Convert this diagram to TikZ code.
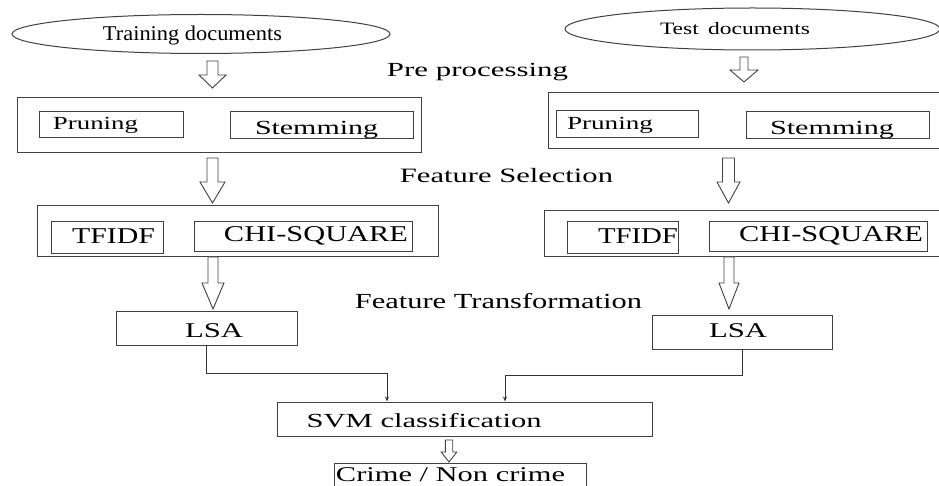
\documentclass[tikz,border=0pt]{standalone}
\usepackage{fontspec}
\setmainfont{Liberation Serif}
\usepackage{graphicx}
\usetikzlibrary{calc,shapes.geometric,arrows.meta}
% #1 dx, #2 dy (baseline offset from node centre), #3 width, #4 font size, #5 text
\newcommand\tx[5]{\raisebox{#2pt}{\hspace*{#1pt}\resizebox{#3pt}{\height}{\fontsize{#4}{#4}\selectfont #5}\hspace*{-#1pt}}}
\begin{document}
\begin{tikzpicture}[x=1pt,y=-1pt,
  box/.style={draw=black!75, line width=1pt, rectangle, inner sep=0pt, text height=0pt, text depth=0pt},
  ell/.style={draw=black!75, line width=1pt, ellipse, inner sep=0pt, text height=0pt, text depth=0pt},
  sz/.style 2 args={minimum width=#1pt, minimum height=#2pt},
  lbl/.style={anchor=base, inner sep=0pt},
  blk/.style={draw=black!75, line width=0.9pt, fill=white, line join=miter},
  barrow/.style n args={3}{to path={let \p1=(\tikztostart), \p2=(\tikztotarget) in
     (\x1-#1pt,\y1) -- (\x1+#1pt,\y1) -- (\x1+#1pt,\y2+#3pt) -- (\x1+#2pt,\y2+#3pt) -- (\x1,\y2)
     -- (\x1-#2pt,\y2+#3pt) -- (\x1-#1pt,\y2+#3pt) -- cycle}},
  conn/.style={draw=black!80, line width=0.9pt, -{Stealth[length=5pt,width=4pt]}}
]
\useasboundingbox[fill=white] (0,0) rectangle (939,486);

% sources
\node[ell, sz={378}{39}] (train) at (201,34) {\tx{-8.5}{-6.7}{179}{21}{Training documents}};
\node[ell, sz={375}{42}] (test) at (752.5,29) {\tx{-17.5}{-5.3}{150}{17.4}{Test\hspace{.4em}documents}};

% pre processing
\node[lbl] (pp) at (477.5,76.7) {\tx{0}{0}{181}{20}{Pre processing}};
\node[box, sz={404}{55}] (preL) at (219,125.5) {};
\node[box, sz={144}{26}] (prunL) at (111,125) {\tx{-15.5}{-5}{85}{18.5}{Pruning}};
\node[box, sz={183}{27}] (stemL) at (321.5,125.5) {\tx{-5}{-9.5}{123}{20}{Stemming}};
\node[box, sz={397}{56}] (preR) at (746.5,121) {};
\node[box, sz={142}{27}] (prunR) at (627,124.5) {\tx{-17}{-5.5}{86}{18.5}{Pruning}};
\node[box, sz={183}{27}] (stemR) at (837.5,125.5) {\tx{-5.5}{-9.5}{124}{20}{Stemming}};

% feature selection
\node[lbl] (fs) at (506.5,182.3) {\tx{0}{0}{213}{20.4}{Feature Selection}};
\node[box, sz={401}{51}] (fsL) at (237.5,231.5) {};
\node[box, sz={112}{32}] (tfL) at (107,238) {\tx{6.5}{-5.3}{83}{22.6}{TFIDF}};
\node[box, sz={218}{30}] (chiL) at (303,237) {\tx{13}{-4.7}{184}{22.6}{CHI-SQUARE}};
\node[box, sz={401}{46}] (fsR) at (744.5,234) {};
\node[box, sz={111}{32}] (tfR) at (622.5,238) {\tx{15.5}{-6}{80}{22.6}{TFIDF}};
\node[box, sz={218}{30}] (chiR) at (818,237) {\tx{13}{-4.7}{184}{22.6}{CHI-SQUARE}};

% feature transformation
\node[lbl] (ft) at (498.5,308.3) {\tx{0}{0}{287}{21.5}{Feature Transformation}};
\node[box, sz={181}{34}] (lsaL) at (206.5,328) {\tx{7.5}{-9.3}{58}{21}{LSA}};
\node[box, sz={180}{34}] (lsaR) at (742,332) {\tx{-4}{-5.3}{58}{21}{LSA}};

% classification
\node[box, sz={375}{34}] (svm) at (464.5,419) {\tx{-40.3}{-8.7}{235}{20}{SVM classification}};
\node[box, sz={252}{37}] (crime) at (460,481.5) {\tx{-9.5}{-0.2}{229}{21}{Crime / Non crime}};

% block arrows
\coordinate (a1ls) at (212.5,61);  \coordinate (a1le) at (212.5,88);
\coordinate (a1rs) at (744,57);    \coordinate (a1re) at (744,82);
\coordinate (a2ls) at (212.5,158); \coordinate (a2le) at (212.5,203);
\coordinate (a2rs) at (728.5,158); \coordinate (a2re) at (728.5,203);
\coordinate (a3ls) at (213,257);   \coordinate (a3le) at (213,309);
\coordinate (a3rs) at (729,257);   \coordinate (a3re) at (729,309);
\coordinate (a4s) at (449,440);    \coordinate (a4e) at (449,462);
\draw[blk, barrow={5.5}{13.5}{13}] (a1ls) to (a1le);
\draw[blk, barrow={4}{14}{12}] (a1rs) to (a1re);
\draw[blk, barrow={5.5}{12.5}{21}] (a2ls) to (a2le);
\draw[blk, barrow={6}{11.5}{21}] (a2rs) to (a2re);
\draw[blk, barrow={5}{11}{26}] (a3ls) to (a3le);
\draw[blk, barrow={5}{10}{26}] (a3rs) to (a3re);
\draw[blk, barrow={3.7}{7.8}{10}] (a4s) to (a4e);

% connectors to SVM
\coordinate (jl) at (387,373);
\coordinate (jr) at (505,375);
\draw[conn] (lsaL.south) |- (jl) -- (jl |- svm.north);
\draw[conn] (lsaR.south) |- (jr) -- (jr |- svm.north);
\end{tikzpicture}
\end{document}
